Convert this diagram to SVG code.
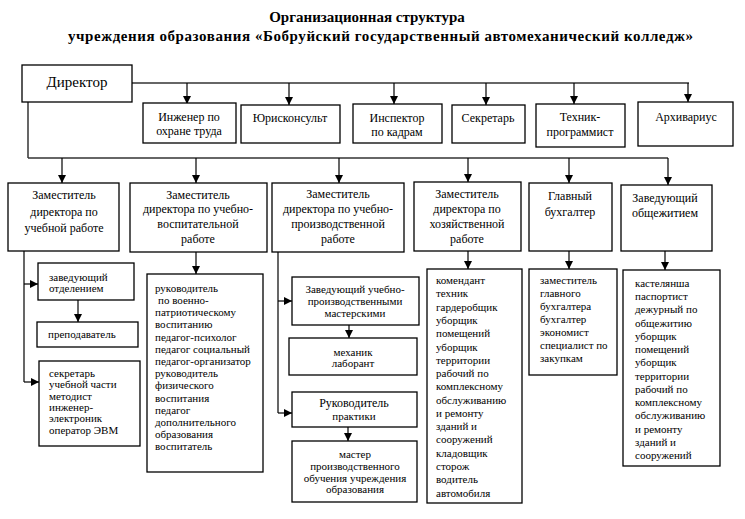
<svg xmlns="http://www.w3.org/2000/svg" width="745" height="519" viewBox="0 0 745 519">
<style>
.box{fill:#fff;stroke:#000;stroke-width:1.3}
.t{font-family:"Liberation Serif","Times New Roman",serif;font-size:12px;fill:#000}
.s{font-family:"Liberation Serif","Times New Roman",serif;font-size:11px;fill:#000}
.c{text-anchor:middle}
.ttl{font-family:"Liberation Serif","Times New Roman",serif;font-size:15px;font-weight:bold}
.ln{fill:none;stroke:#000;stroke-width:1.2}
.bus{fill:none;stroke:#333;stroke-width:1.6}
</style>
<defs>
<marker id="ah" viewBox="0 0 8 8" refX="8" refY="4" markerWidth="8" markerHeight="8" markerUnits="userSpaceOnUse" orient="auto">
<path d="M0,0 L8,4 L0,8 z" fill="#000"/>
</marker>
</defs>
<rect width="745" height="519" fill="#fff"/>
<g id="title">
<text class="ttl" x="367" y="22" text-anchor="middle">Организационная структура</text>
<text class="ttl" x="68" y="41" textLength="625" lengthAdjust="spacing">учреждения образования «Бобруйский государственный автомеханический колледж»</text>
</g>
<g id="connectors">
<path class="bus" d="M132,83 H689"/>
<path class="ln" d="M187,83 V104" marker-end="url(#ah)"/>
<path class="ln" d="M289,83 V105" marker-end="url(#ah)"/>
<path class="ln" d="M394,83 V104" marker-end="url(#ah)"/>
<path class="ln" d="M486,83 V105" marker-end="url(#ah)"/>
<path class="ln" d="M574,83 V104" marker-end="url(#ah)"/>
<path class="ln" d="M688,83 V102" marker-end="url(#ah)"/>
<path class="ln" d="M28,102 V158"/>
<path class="bus" d="M28,158 H668"/>
<path class="ln" d="M62,158 V183" marker-end="url(#ah)"/>
<path class="ln" d="M196,158 V183" marker-end="url(#ah)"/>
<path class="ln" d="M339,158 V183" marker-end="url(#ah)"/>
<path class="ln" d="M468,158 V182" marker-end="url(#ah)"/>
<path class="ln" d="M569,158 V183" marker-end="url(#ah)"/>
<path class="ln" d="M668,158 V185" marker-end="url(#ah)"/>
<path class="ln" d="M24,251 V382"/>
<path class="ln" d="M24,284 H38" marker-end="url(#ah)"/>
<path class="ln" d="M24,382 H39" marker-end="url(#ah)"/>
<path class="ln" d="M78,300 V322" marker-end="url(#ah)"/>
<path class="ln" d="M196,252 V274" marker-end="url(#ah)"/>
<path class="ln" d="M278,252 V413"/>
<path class="ln" d="M278,301 H292" marker-end="url(#ah)"/>
<path class="ln" d="M278,413 H292" marker-end="url(#ah)"/>
<path class="ln" d="M349,325 V338" marker-end="url(#ah)"/>
<path class="ln" d="M348,427 V441" marker-end="url(#ah)"/>
<path class="ln" d="M468,251 V269" marker-end="url(#ah)"/>
<path class="ln" d="M569,251 V269" marker-end="url(#ah)"/>
<path class="ln" d="M665,251 V270" marker-end="url(#ah)"/>
</g>
<g id="director">
<rect class="box" x="22" y="65" width="110" height="37"/>
<text class="t c" x="77" y="87" style="font-size:15px">Директор</text>
</g>
<g id="engineer">
<rect class="box" x="143" y="103" width="93" height="40"/>
<text class="t c" x="189" y="121">Инженер по</text>
<text class="t c" x="189" y="135">охране труда</text>
</g>
<g id="lawyer">
<rect class="box" x="241" y="105" width="99" height="38"/>
<text class="t c" x="290" y="122">Юрисконсульт</text>
</g>
<g id="hr">
<rect class="box" x="353" y="104" width="89" height="39"/>
<text class="t c" x="397" y="122">Инспектор</text>
<text class="t c" x="397" y="136">по кадрам</text>
</g>
<g id="secretary">
<rect class="box" x="452" y="105" width="73" height="38"/>
<text class="t c" x="488" y="122">Секретарь</text>
</g>
<g id="programmer">
<rect class="box" x="536" y="104" width="89" height="43"/>
<text class="t c" x="580" y="121">Техник-</text>
<text class="t c" x="580" y="136">программист</text>
</g>
<g id="archivist">
<rect class="box" x="638" y="102" width="95" height="44"/>
<text class="t c" x="686" y="121">Архивариус</text>
</g>
<g id="dep-study">
<rect class="box" x="8" y="183" width="111" height="68"/>
<text class="t c" x="64" y="199">Заместитель</text>
<text class="t c" x="64" y="216">директора по</text>
<text class="t c" x="64" y="232">учебной работе</text>
</g>
<g id="dep-edu">
<rect class="box" x="130" y="183" width="137" height="69"/>
<text class="t c" x="198" y="199">Заместитель</text>
<text class="t c" x="198" y="213">директора по учебно-</text>
<text class="t c" x="198" y="228">воспитательной</text>
<text class="t c" x="198" y="243">работе</text>
</g>
<g id="dep-prod">
<rect class="box" x="272" y="183" width="132" height="69"/>
<text class="t c" x="338" y="198">Заместитель</text>
<text class="t c" x="338" y="213">директора по учебно-</text>
<text class="t c" x="338" y="228">производственной</text>
<text class="t c" x="338" y="243">работе</text>
</g>
<g id="dep-eco">
<rect class="box" x="414" y="182" width="107" height="69"/>
<text class="t c" x="467" y="198">Заместитель</text>
<text class="t c" x="467" y="213">директора по</text>
<text class="t c" x="467" y="228">хозяйственной</text>
<text class="t c" x="467" y="243">работе</text>
</g>
<g id="chief-acc">
<rect class="box" x="529" y="183" width="83" height="68"/>
<text class="t c" x="570" y="200">Главный</text>
<text class="t c" x="570" y="216">бухгалтер</text>
</g>
<g id="dorm-head">
<rect class="box" x="621" y="185" width="91" height="66"/>
<text class="t c" x="665" y="202">Заведующий</text>
<text class="t c" x="665" y="217">общежитием</text>
</g>
<g id="dept-head">
<rect class="box" x="38" y="263" width="96" height="37"/>
<text class="s" x="49" y="281">заведующий</text>
<text class="s" x="49" y="292">отделением</text>
</g>
<g id="teacher">
<rect class="box" x="37" y="322" width="101" height="25"/>
<text class="s" x="48" y="338">преподаватель</text>
</g>
<g id="study-staff">
<rect class="box" x="39" y="361" width="101" height="85"/>
<text class="s" x="49" y="377">секретарь</text>
<text class="s" x="49" y="388">учебной части</text>
<text class="s" x="49" y="400">методист</text>
<text class="s" x="49" y="411">инженер-</text>
<text class="s" x="49" y="422">электроник</text>
<text class="s" x="49" y="434">оператор ЭВМ</text>
</g>
<g id="edu-staff">
<rect class="box" x="147" y="274" width="116" height="198"/>
<text class="s" x="155" y="292">руководитель</text>
<text class="s" x="158" y="304">по военно-</text>
<text class="s" x="155" y="316">патриотическому</text>
<text class="s" x="155" y="328">воспитанию</text>
<text class="s" x="155" y="341">педагог-психолог</text>
<text class="s" x="155" y="353">педагог социальный</text>
<text class="s" x="155" y="365">педагог-организатор</text>
<text class="s" x="155" y="377">руководитель</text>
<text class="s" x="155" y="389">физического</text>
<text class="s" x="155" y="402">воспитания</text>
<text class="s" x="155" y="414">педагог</text>
<text class="s" x="155" y="426">дополнительного</text>
<text class="s" x="155" y="438">образования</text>
<text class="s" x="155" y="450">воспитатель</text>
</g>
<g id="workshops">
<rect class="box" x="292" y="277" width="127" height="48"/>
<text class="s c" x="355" y="293">Заведующий учебно-</text>
<text class="s c" x="355" y="305">производственными</text>
<text class="s c" x="355" y="317">мастерскими</text>
</g>
<g id="mechanic">
<rect class="box" x="289" y="338" width="128" height="37"/>
<text class="s c" x="353" y="356">механик</text>
<text class="s c" x="353" y="367">лаборант</text>
</g>
<g id="practice">
<rect class="box" x="292" y="392" width="125" height="35"/>
<text class="t c" x="354" y="407">Руководитель</text>
<text class="s c" x="354" y="420">практики</text>
</g>
<g id="master">
<rect class="box" x="292" y="441" width="125" height="61"/>
<text class="s c" x="355" y="458">мастер</text>
<text class="s c" x="355" y="470">производственного</text>
<text class="s c" x="355" y="482">обучения учреждения</text>
<text class="s c" x="355" y="493">образования</text>
</g>
<g id="eco-staff">
<rect class="box" x="427" y="269" width="95" height="234"/>
<text class="s" x="436" y="284">комендант</text>
<text class="s" x="436" y="297">техник</text>
<text class="s" x="436" y="311">гардеробщик</text>
<text class="s" x="436" y="324">уборщик</text>
<text class="s" x="436" y="337">помещений</text>
<text class="s" x="436" y="351">уборщик</text>
<text class="s" x="436" y="364">территории</text>
<text class="s" x="436" y="377">рабочий по</text>
<text class="s" x="436" y="390">комплексному</text>
<text class="s" x="436" y="404">обслуживанию</text>
<text class="s" x="436" y="417">и ремонту</text>
<text class="s" x="436" y="430">зданий и</text>
<text class="s" x="436" y="443">сооружений</text>
<text class="s" x="436" y="457">кладовщик</text>
<text class="s" x="436" y="470">сторож</text>
<text class="s" x="436" y="483">водитель</text>
<text class="s" x="436" y="497">автомобиля</text>
</g>
<g id="acc-staff">
<rect class="box" x="529" y="269" width="88" height="106"/>
<text class="s" x="540" y="284">заместитель</text>
<text class="s" x="540" y="297">главного</text>
<text class="s" x="540" y="310">бухгалтера</text>
<text class="s" x="540" y="323">бухгалтер</text>
<text class="s" x="540" y="336">экономист</text>
<text class="s" x="540" y="349">специалист по</text>
<text class="s" x="540" y="362">закупкам</text>
</g>
<g id="dorm-staff">
<rect class="box" x="623" y="270" width="97" height="196"/>
<text class="s" x="635" y="287">кастелянша</text>
<text class="s" x="635" y="300">паспортист</text>
<text class="s" x="635" y="313">дежурный по</text>
<text class="s" x="635" y="327">общежитию</text>
<text class="s" x="635" y="340">уборщик</text>
<text class="s" x="635" y="353">помещений</text>
<text class="s" x="635" y="366">уборщик</text>
<text class="s" x="635" y="380">территории</text>
<text class="s" x="635" y="393">рабочий по</text>
<text class="s" x="635" y="406">комплексному</text>
<text class="s" x="635" y="419">обслуживанию</text>
<text class="s" x="635" y="433">и ремонту</text>
<text class="s" x="635" y="446">зданий и</text>
<text class="s" x="635" y="459">сооружений</text>
</g>
</svg>
